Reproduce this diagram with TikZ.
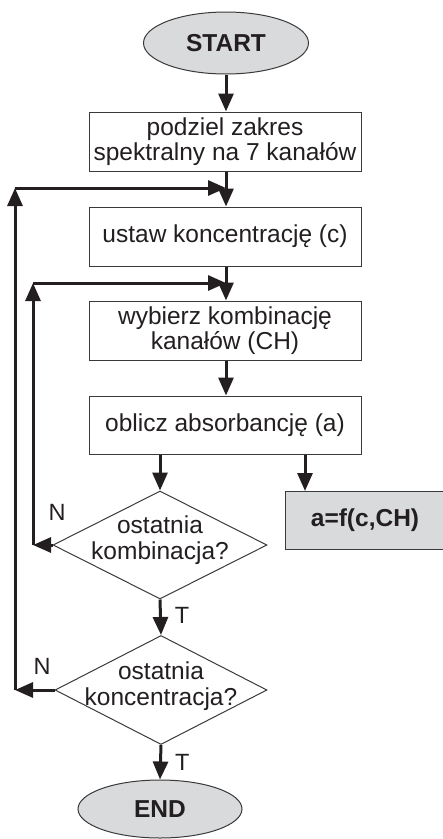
\documentclass[tikz,border=0pt]{standalone}
\usepackage{fontspec}
\setmainfont{Liberation Sans}
\usetikzlibrary{shapes.geometric,arrows.meta,calc}
\definecolor{ink}{HTML}{231F20}
\definecolor{boxline}{HTML}{3A3A3A}
\definecolor{grayfill}{HTML}{D9DADC}
\begin{document}
\begin{tikzpicture}[x=1pt,y=-1pt,
  every node/.style={font=\fontsize{24.5}{25.5}\selectfont, text=ink},
  stepbox/.style={draw=boxline, line width=1pt, rectangle, minimum width=272pt, minimum height=59pt, inner sep=0pt, align=center, fill=white},
  term/.style={draw=boxline, line width=1pt, ellipse, fill=grayfill, inner sep=0pt, font=\fontsize{24.5}{26}\selectfont\bfseries},
  decision/.style={draw=boxline, line width=1pt, diamond, inner sep=0pt, fill=white},
  dtext/.style={align=center, inner sep=0pt},
  flow/.style={draw=ink, line width=3pt, -{Triangle[length=18pt,width=15pt]}},
  lbl/.style={inner sep=0pt, font=\fontsize{23.5}{24}\selectfont}
]
\useasboundingbox (0,0) rectangle (443,839);

\node[term, minimum width=165pt, minimum height=62pt] (start) at (226,43) {START};
\node[stepbox] (b1) at (225,141.5) {podziel zakres\\spektralny na 7 kanałów};
\node[stepbox] (b2) at (225,236.5) {ustaw koncentrację (c)};
\node[stepbox] (b3) at (225,330.5) {wybierz kombinację\\kanałów (CH)};
\node[stepbox, minimum height=58pt] (b4) at (225,425) {oblicz absorbancję (a)};

\node[decision, minimum width=214pt, minimum height=108pt] (d1) at (160,545) {};
\node[dtext] (d1t) at (160,540) {ostatnia\\kombinacja?};
\node[decision, minimum width=212pt, minimum height=109pt] (d2) at (161,690) {};
\node[dtext] (d2t) at (161,686) {ostatnia\\koncentracja?};

\node[draw=boxline, line width=1pt, rectangle, fill=grayfill, minimum width=160pt, minimum height=58pt, inner sep=0pt, font=\fontsize{24.5}{26}\selectfont\bfseries] (ab) at (365,520) {a=f(c,CH)};

\node[term, minimum width=164pt, minimum height=58pt] (end) at (160,809) {END};

\coordinate (o1) at (15,690);
\coordinate (o2) at (15,188);
\coordinate (m1) at (226,188);
\coordinate (i1) at (33,545);
\coordinate (i2) at (33,283);
\coordinate (m2) at (226,283);
\coordinate (abin) at (305,491);

\draw[flow] (start.south -| m1) -- (b1.north -| m1);
\draw[flow] (b1.south -| m1) -- (b2.north -| m1);
\draw[flow] (b2.south -| m1) -- (b3.north -| m1);
\draw[flow] (b3.south -| m1) -- (b4.north -| m1);
\draw[flow] (b4.south -| d1.north) -- (d1.north);
\draw[flow] (b4.south -| abin) -- (abin);
\draw[flow] (d1.south) -- (d2.north) node[lbl, pos=0.45, anchor=west, xshift=13pt] (t1) {T};
\draw[flow] (d2.south) -- (end.north) node[lbl, pos=0.5, anchor=west, xshift=13pt] (t2) {T};

% inner loop
\draw[flow] (d1.west) -- (i1);
\draw[flow] (i1) -- (i2);
\draw[flow] (i2) -- (m2);
\node[lbl] (n1) at (57,512) {N};

% outer loop
\draw[flow] (d2.west) -- (o1);
\draw[flow] (o1) -- (o2);
\draw[flow] (o2) -- (m1);
\node[lbl] (n2) at (42,666) {N};
\end{tikzpicture}
\end{document}
